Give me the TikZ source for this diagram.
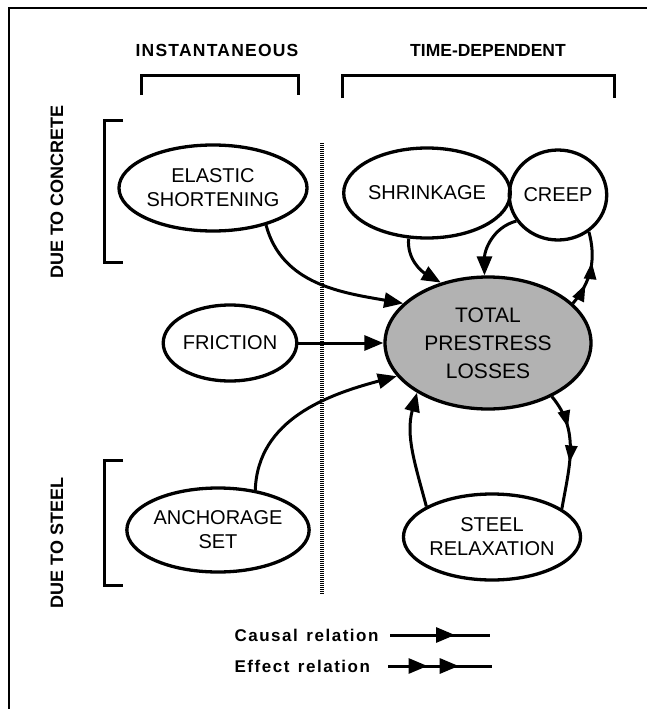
\documentclass[tikz,border=0pt]{standalone}
\usepackage{fontspec}
\setmainfont{Liberation Sans}
\newfontfamily\legfont[LetterSpace=9]{Liberation Sans}
\newfontfamily\insfont[LetterSpace=7]{Liberation Sans}
\usetikzlibrary{shapes.geometric,arrows.meta,decorations.markings}
\tikzset{
  oval/.style={ellipse,draw,line width=3.3pt,inner sep=0pt,align=center,
    font=\fontsize{20}{24}\selectfont},
  conn/.style={line width=3pt},
  bigtip/.tip={Triangle[length=19pt,width=15pt]},
  smalltip/.tip={Triangle[length=17pt,width=12pt]},
  causal/.style={conn,-bigtip},
  effect/.style={conn,postaction={decorate},
    decoration={markings,
      mark=at position #1 with {\arrow{smalltip}},
      mark=at position #1+0.3 with {\arrow{smalltip}}}},
  head/.style={font=\bfseries\fontsize{17.5}{20}\selectfont},
  side/.style={font=\bfseries\fontsize{18}{20}\selectfont,rotate=90},
  brk/.style={line width=3pt},
  leg/.style={font=\legfont\bfseries\fontsize{17}{19}\selectfont,anchor=west},
}
\begin{document}
\begin{tikzpicture}[x=1pt,y=-1pt]
\useasboundingbox (0,0) rectangle (647,709);
% frame
\draw[line width=2.5pt] (9,709) -- (9,8) -- (647,8);
% headings
\node[head,font=\insfont\bfseries\fontsize{17.5}{20}\selectfont] (hi) at (217,50) {INSTANTANEOUS};
\node[head] (ht) at (488,50) {TIME-DEPENDENT};
\draw[brk] (141,95) -- (141,75) -- (298,75) -- (298,95);
\draw[brk] (342,98) -- (342,75) -- (614,75) -- (614,98);
\node[side] (hc) at (57,192) {DUE TO CONCRETE};
\node[side] (hs) at (57,543) {DUE TO STEEL};
\draw[brk] (123,120) -- (104,120) -- (104,262) -- (123,262);
\draw[brk] (123,460) -- (104,460) -- (104,585) -- (123,585);
% dotted separator
\draw[line width=3.5pt,dash pattern=on 1pt off 1pt] (322,143) -- (322,595);
% nodes
\node[oval,minimum width=152pt,minimum height=86pt] (el) at (213,188) {ELASTIC\\SHORTENING};
\node[oval,minimum width=116pt,minimum height=76pt] (fr) at (230,343) {FRICTION};
\node[oval,minimum width=150pt,minimum height=84pt] (an) at (218,530) {ANCHORAGE\\SET};
\node[oval,minimum width=150pt,minimum height=90pt] (sh) at (427,193) {SHRINKAGE};
\node[oval,minimum width=90pt,minimum height=90pt] (cr) at (558,195) {CREEP};
\node[oval,fill=black!30,minimum width=206pt,minimum height=132pt,
  font=\fontsize{21}{28}\selectfont] (tot) at (488,343) {TOTAL\\PRESTRESS\\LOSSES};
\node[oval,minimum width=176pt,minimum height=86pt] (st) at (492,537) {STEEL\\RELAXATION};
% connectors
\draw[causal] (el.-35) to[out=-75,in=170] (tot.155);
\draw[causal] (fr.east) -- (tot.west);
\draw[causal] (an.47) to[out=88,in=195] (tot.200);
\draw[causal] (sh.-112) to[out=-95,in=150] (tot.128);
\draw[causal] (cr.-148) to[out=195,in=90] (tot.93);
\draw[effect=0.3] (tot.25) to[out=50,in=-75] (cr.-50);
\draw[effect=0.3] (tot.-40) to[out=-50,in=80] (st.22);
\draw[causal] (st.155) to[out=105,in=-105] (tot.-145);
% legend
\node[leg] (lc) at (231,635) {Causal\enspace relation};
\node[leg] (le) at (231,666) {Effect\enspace relation};
\coordinate (c1) at (390,635);
\coordinate (c2) at (490,635);
\coordinate (e1) at (388,666);
\coordinate (e2) at (492,666);
\draw[conn,postaction={decorate},decoration={markings,
  mark=at position 0.65 with {\arrow{bigtip}}}] (c1) -- (c2);
\draw[conn,postaction={decorate},decoration={markings,
  mark=at position 0.38 with {\arrow{bigtip}},
  mark=at position 0.68 with {\arrow{bigtip}}}] (e1) -- (e2);
\end{tikzpicture}
\end{document}
